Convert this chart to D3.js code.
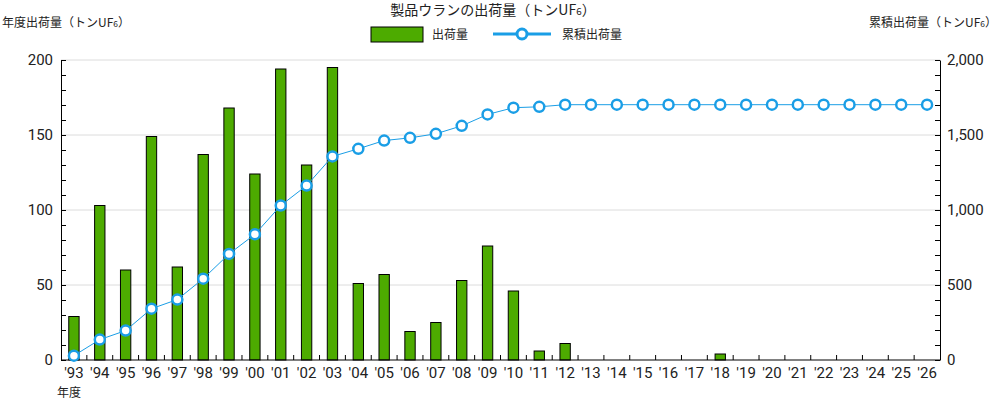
<!DOCTYPE html>
<html>
<head>
<meta charset="utf-8">
<script src="https://cdn.jsdelivr.net/npm/d3@7"></script>
<style>
  body { margin: 0; background: #fff; }
  svg { display: block; }
  .jp { font-family: "Noto Sans CJK JP", "Noto Sans", sans-serif; fill: #222; }
  .tick text { font-family: Roboto, "Noto Sans", sans-serif; font-size: 15px; fill: #222; }
</style>
</head>
<body>
<svg width="1000" height="400"></svg>
<script>
// fiscal years '93 .. '26
const years = d3.range(1993, 2027);

// annual shipments (t UF6)
const shipments = [29, 103, 60, 149, 62, 137, 168, 124, 194, 130,
                   195, 51, 57, 19, 25, 53, 76, 46, 6, 11,
                   0, 0, 0, 0, 0, 4, 0, 0, 0, 0,
                   0, 0, 0, 0];

// cumulative shipments (t UF6)
const cumulative = [29, 136, 196, 342, 403, 542, 707, 838, 1030, 1163,
                    1357, 1408, 1463, 1481, 1508, 1561, 1637, 1682, 1688, 1702,
                    1702, 1702, 1702, 1702, 1702, 1702, 1702, 1702, 1702, 1702,
                    1702, 1702, 1702, 1702];

const leftTicks = [0, 50, 100, 150, 200];
const rightTicks = [0, 500, 1000, 1500, 2000];

const barColor = '#4dab00';
const lineColor = '#1a9ee6';

const svg = d3.select('svg');
const plotL = 61, plotR = 940, plotT = 60, plotB = 360;

const x = d3.scaleBand()
  .domain(years)
  .range([plotL, plotR])
  .padding(0);

const yL = d3.scaleLinear().domain([0, 200]).range([plotB, plotT]);
const yR = d3.scaleLinear().domain([0, 2000]).range([plotB, plotT]);

// grid
svg.append('g')
  .selectAll('line')
  .data(leftTicks.slice(1))
  .join('line')
  .attr('x1', plotL).attr('x2', plotR)
  .attr('y1', d => yL(d)).attr('y2', d => yL(d))
  .attr('stroke', '#dcdcdc')
  .attr('stroke-width', 1);

// minor ticks, left and right
svg.append('g')
  .attr('transform', `translate(${plotL},0)`)
  .call(d3.axisRight(yL).tickValues(d3.range(0, 201, 10)).tickSize(5).tickFormat(''))
  .call(g => g.select('.domain').remove());

svg.append('g')
  .attr('transform', `translate(${plotR},0)`)
  .call(d3.axisLeft(yR).tickValues(d3.range(0, 2001, 100)).tickSize(5).tickFormat(''))
  .call(g => g.select('.domain').remove());

// left axis
svg.append('g')
  .attr('transform', `translate(${plotL},0)`)
  .call(d3.axisLeft(yL).tickValues(leftTicks).tickSize(0).tickPadding(8))
  .call(g => g.select('.domain').attr('stroke', '#000'));

// right axis
svg.append('g')
  .attr('transform', `translate(${plotR},0)`)
  .call(d3.axisRight(yR).tickValues(rightTicks).tickSize(0).tickPadding(7).tickFormat(d3.format(',')))
  .call(g => g.select('.domain').attr('stroke', '#000'));

// bars
const bw = x.bandwidth() * 0.4;
svg.append('g')
  .selectAll('rect')
  .data(years.map((y, i) => ({ year: y, v: shipments[i] })).filter(d => d.v > 0))
  .join('rect')
  .attr('x', d => x(d.year) + (x.bandwidth() - bw) / 2)
  .attr('y', d => yL(d.v))
  .attr('width', bw)
  .attr('height', d => plotB - yL(d.v))
  .attr('fill', barColor)
  .attr('stroke', '#000')
  .attr('stroke-width', 1);

// bottom axis (ticks at band boundaries, inward)
svg.append('g')
  .attr('transform', `translate(0,${plotB})`)
  .call(d3.axisBottom(x).tickSize(0).tickPadding(4).tickFormat(d => "'" + String(d).slice(2)))
  .call(g => g.select('.domain').attr('stroke', '#000').attr('d', `M${plotL},0H${plotR}`))
  .call(g => g.selectAll('.tick text').attr('dy', '0.95em'));

svg.append('g')
  .selectAll('line')
  .data(years.slice(1))
  .join('line')
  .attr('x1', d => x(d)).attr('x2', d => x(d))
  .attr('y1', plotB).attr('y2', plotB - 5)
  .attr('stroke', '#000');

// cumulative line
const pts = years.map((y, i) => [x(y) + x.bandwidth() / 2, yR(cumulative[i])]);
svg.append('path')
  .attr('d', d3.line()(pts))
  .attr('fill', 'none')
  .attr('stroke', lineColor)
  .attr('stroke-width', 1);

svg.append('g')
  .selectAll('circle')
  .data(pts)
  .join('circle')
  .attr('cx', d => d[0])
  .attr('cy', d => d[1])
  .attr('r', 5)
  .attr('fill', '#fff')
  .attr('stroke', lineColor)
  .attr('stroke-width', 2.5);

// texts
function uf6(sel, size) {
  sel.append('tspan').text('UF');
  sel.append('tspan').attr('font-size', size * 0.7).text('6');
  sel.append('tspan').text('）');
}

const title = svg.append('text').attr('class', 'jp')
  .attr('x', 493).attr('y', 15).attr('text-anchor', 'middle')
  .attr('font-size', 14);
title.append('tspan').text('製品ウランの出荷量（トン');
uf6(title, 14);

const lt = svg.append('text').attr('class', 'jp')
  .attr('x', 2).attr('y', 27).attr('font-size', 12);
lt.append('tspan').text('年度出荷量（トン');
uf6(lt, 12);

const rt = svg.append('text').attr('class', 'jp')
  .attr('x', 997).attr('y', 27).attr('font-size', 12).attr('text-anchor', 'end');
rt.append('tspan').text('累積出荷量（トン');
uf6(rt, 12);

svg.append('text').attr('class', 'jp')
  .attr('x', 57).attr('y', 397).attr('font-size', 12).text('年度');

// legend
const lg = svg.append('g');
lg.append('rect')
  .attr('x', 371).attr('y', 27).attr('width', 52).attr('height', 15)
  .attr('fill', barColor).attr('stroke', '#000');
lg.append('text').attr('class', 'jp')
  .attr('x', 432).attr('y', 39).attr('font-size', 12).text('出荷量');
lg.append('line')
  .attr('x1', 493).attr('x2', 551).attr('y1', 34).attr('y2', 34)
  .attr('stroke', lineColor).attr('stroke-width', 3);
lg.append('circle')
  .attr('cx', 522).attr('cy', 34).attr('r', 5)
  .attr('fill', '#fff').attr('stroke', lineColor).attr('stroke-width', 3);
lg.append('text').attr('class', 'jp')
  .attr('x', 562).attr('y', 39).attr('font-size', 12).text('累積出荷量');
</script>
</body>
</html>
